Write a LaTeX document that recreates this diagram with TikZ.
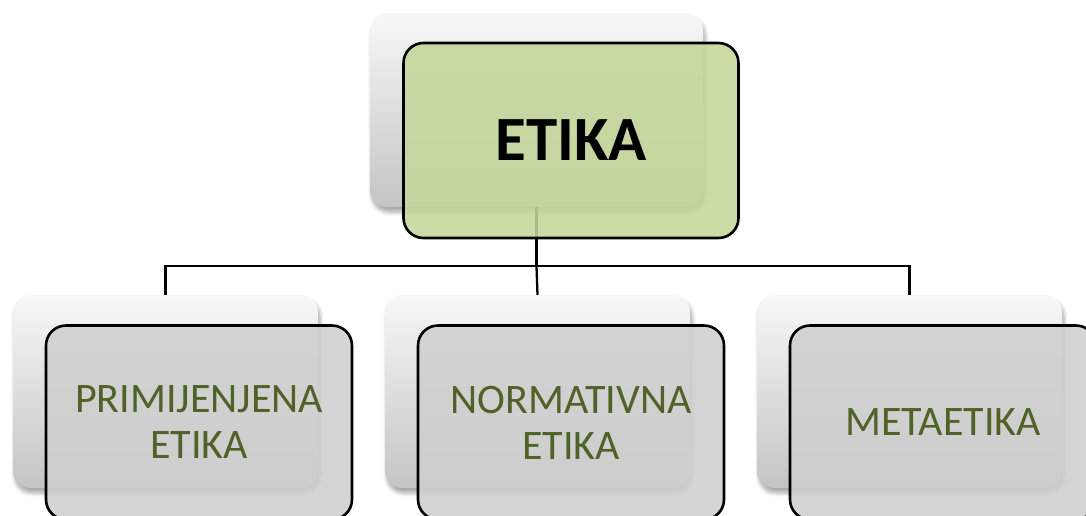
\documentclass[tikz,border=0pt]{standalone}
\usepackage{fontspec}
\setmainfont{Carlito}
\usetikzlibrary{shadows,shadows.blur}
\definecolor{etikagreen}{HTML}{C4D79B}
\definecolor{leafgreen}{HTML}{4F6228}
\tikzstyle{backcard}=[rectangle, rounded corners=17pt, inner sep=0pt, minimum width=305pt, minimum height=193pt, top color=black!3, bottom color=black!23, blur shadow={shadow xshift=2pt, shadow yshift=-5pt, shadow opacity=35, shadow blur steps=6, shadow blur radius=4pt}]
\tikzstyle{frontcard}=[rectangle, rounded corners=20pt, inner sep=0pt, minimum width=306pt, minimum height=194pt, draw=black, line width=2.6pt, fill=black!19, fill opacity=0.88, text opacity=1, align=center, text=leafgreen, font=\fontsize{42}{46}\selectfont]
\tikzstyle{link}=[line width=2.3pt, draw=black]
\begin{document}
\begin{tikzpicture}[x=1pt, y=-1pt]
	\useasboundingbox (0,0) rectangle (1086,515);
	\clip (0,0) rectangle (1086,515);

	% shadow cards behind
	\node[backcard, minimum width=333pt, minimum height=194pt](etikaback) at (536.5,110){};
	\node[backcard](primback) at (165.5,391.5){};
	\node[backcard](normback) at (537.5,391.5){};
	\node[backcard](metaback) at (909.5,391.5){};

	% tree lines
	\draw[link] (etikaback.south) -- ++(0,59) coordinate (fork);
	\draw[link] (primback.north) |- (fork) -| (metaback.north);
	\draw[link] (fork) -- (normback.north);

	% front cards
	\node[frontcard, minimum width=335pt, minimum height=195pt, fill=etikagreen, text=black, font=\fontsize{63}{63}\selectfont\bfseries](etika) at (571,140.5){ETIKA};
	\node[frontcard](prim) at (199,422.5){PRIMIJENJENA\\ETIKA};
	\node[frontcard](norm) at (571,422.5){NORMATIVNA\\ETIKA};
	\node[frontcard](meta) at (943,422.5){METAETIKA};
\end{tikzpicture}
\end{document}
